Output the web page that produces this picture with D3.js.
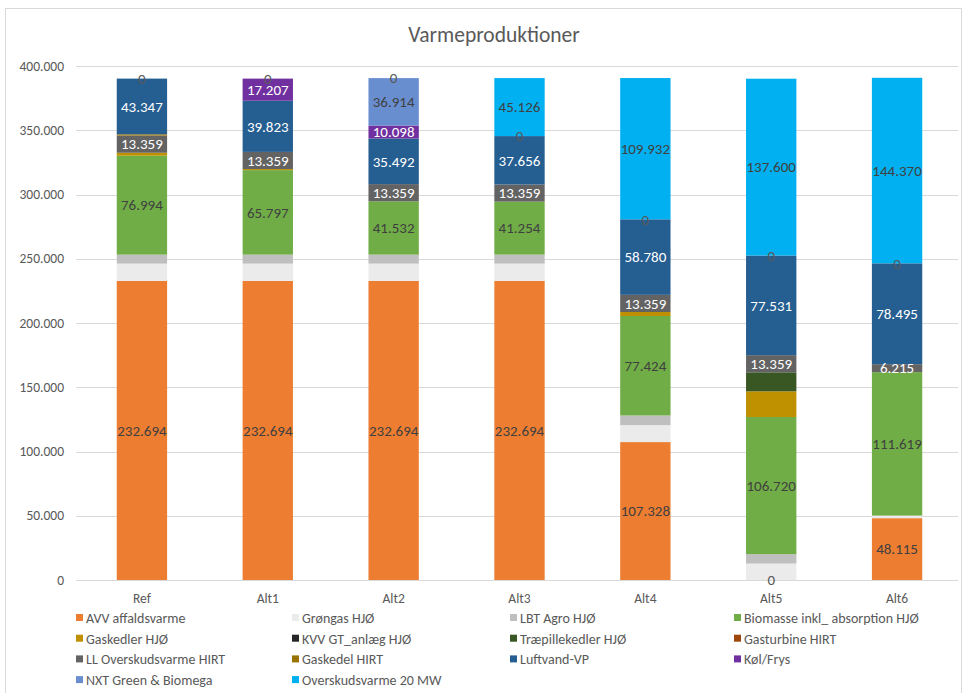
<!DOCTYPE html>
<html>
<head>
<meta charset="utf-8">
<script src="https://cdn.jsdelivr.net/npm/d3@7"></script>
<style>
  body { margin: 0; background: #fff; }
  svg { font-family: Carlito, Calibri, "Liberation Sans", sans-serif; }
</style>
</head>
<body>
<svg id="chart" width="965" height="693"></svg>
<script>
// categories and series values (MWh)
const categories = ["Ref", "Alt1", "Alt2", "Alt3", "Alt4", "Alt5", "Alt6"];

const avvAffaldsvarme   = [232694, 232694, 232694, 232694, 107328, 0, 48115];
const grongasHJO        = [13500, 13500, 13500, 13500, 13200, 12800, 2000];
const lbtAgroHJO        = [7000, 7000, 7000, 7000, 7500, 7300, 0];
const biomasseHJO       = [76994, 65797, 41532, 41254, 77424, 106720, 111619];
const gaskedlerHJO      = [2300, 800, 0, 0, 3100, 20000, 0];
const kvvGtHJO          = [0, 0, 0, 0, 0, 0, 0];
const traepillekedlerHJO = [0, 0, 0, 0, 0, 14800, 0];
const gasturbineHIRT    = [0, 0, 0, 0, 0, 0, 0];
const llOverskudHIRT    = [13359, 13359, 13359, 13359, 13359, 13359, 6215];
const gaskedelHIRT      = [1000, 0, 0, 0, 0, 0, 0];
const luftvandVP        = [43347, 39823, 35492, 37656, 58780, 77531, 78495];
const kolFrys           = [0, 17207, 10098, 0, 0, 0, 0];
const nxtGreen          = [0, 0, 36914, 0, 0, 0, 0];
const overskud20MW      = [0, 0, 0, 45126, 109932, 137600, 144370];

const seriesNames = [
  "AVV affaldsvarme", "Grøngas HJØ", "LBT Agro HJØ", "Biomasse inkl_ absorption HJØ",
  "Gaskedler HJØ", "KVV GT_anlæg HJØ", "Træpillekedler HJØ", "Gasturbine HIRT",
  "LL Overskudsvarme HIRT", "Gaskedel HIRT", "Luftvand-VP", "Køl/Frys",
  "NXT Green & Biomega", "Overskudsvarme 20 MW"
];
const seriesValues = [
  avvAffaldsvarme, grongasHJO, lbtAgroHJO, biomasseHJO, gaskedlerHJO, kvvGtHJO,
  traepillekedlerHJO, gasturbineHIRT, llOverskudHIRT, gaskedelHIRT, luftvandVP,
  kolFrys, nxtGreen, overskud20MW
];
const yTicks = [0, 50000, 100000, 150000, 200000, 250000, 300000, 350000, 400000];

const colors = ["#ED7D31", "#ECEBEB", "#BFBFBF", "#70AD47", "#BF9000", "#262626",
  "#385723", "#9E480E", "#636363", "#997300", "#255E91", "#7030A0", "#698ED0", "#00B0F0"];
// which series get data labels, and label colour
const labelColor = {0: "#404040", 3: "#404040", 8: "#ffffff", 10: "#ffffff",
  11: "#ffffff", 12: "#404040", 13: "#404040"};

const locale = d3.formatLocale({decimal: ",", thousands: ".", grouping: [3], currency: ["", ""]});
const fmt = locale.format(",d");

const rows = categories.map((c, i) => {
  const r = {cat: c};
  seriesNames.forEach((s, j) => r[s] = seriesValues[j][i]);
  return r;
});
const stacked = d3.stack().keys(seriesNames)(rows);

const svg = d3.select("#chart");
const textCol = "#595959";

// chart frame
svg.append("rect").attr("x", 5.5).attr("y", 8.5).attr("width", 956).attr("height", 700)
  .attr("fill", "none").attr("stroke", "#D9D9D9");

svg.append("text").attr("x", 494).attr("y", 42).attr("text-anchor", "middle")
  .attr("fill", textCol).style("font-size", "21.5px").text("Varmeproduktioner");

const x = d3.scaleBand().domain(categories).range([79, 960]).paddingInner(0.6).paddingOuter(0.3);
const y = d3.scaleLinear().domain([0, 400000]).range([580, 66]);

// gridlines
svg.append("g").selectAll("line").data(yTicks).join("line")
  .attr("x1", 76).attr("x2", 958)
  .attr("y1", d => Math.round(y(d)) + 0.5).attr("y2", d => Math.round(y(d)) + 0.5)
  .attr("stroke", "#D9D9D9");

svg.append("g").selectAll("text").data(yTicks).join("text")
  .attr("x", 64).attr("y", d => y(d)).attr("dy", "0.35em")
  .attr("text-anchor", "end").attr("fill", textCol).style("font-size", "13.5px")
  .text(d => fmt(d));

svg.append("g").selectAll("text").data(categories).join("text")
  .attr("x", d => x(d) + x.bandwidth() / 2).attr("y", 598).attr("dy", "0.35em")
  .attr("text-anchor", "middle").attr("fill", textCol).style("font-size", "13.5px")
  .text(d => d);

// bars
svg.append("g").selectAll("g").data(stacked).join("g")
  .attr("fill", (d, i) => colors[i])
  .selectAll("rect").data(d => d).join("rect")
  .attr("x", d => x(d.data.cat))
  .attr("y", d => y(d[1]))
  .attr("width", x.bandwidth())
  .attr("height", d => y(d[0]) - y(d[1]));

// data labels
const labels = [];
stacked.forEach((s, i) => {
  if (!(i in labelColor)) return;
  s.forEach(d => {
    const v = d[1] - d[0];
    const cy = y((d[0] + d[1]) / 2);
    const cat = d.data.cat;
    if (v === 0 && labels.some(l => l.cat === cat && Math.abs(l.cy - cy) < 1)) return;
    labels.push({cat, cy, v, col: v === 0 ? "#595959" : labelColor[i]});
  });
});
svg.append("g").selectAll("text").data(labels).join("text")
  .attr("x", d => x(d.cat) + x.bandwidth() / 2).attr("y", d => d.cy).attr("dy", "0.35em")
  .attr("text-anchor", "middle").attr("fill", d => d.col).style("font-size", "15px")
  .text(d => fmt(d.v));

// legend
const legCols = [76, 292, 510, 734];
const leg = svg.append("g").selectAll("g").data(seriesNames).join("g")
  .attr("transform", (d, i) => `translate(${legCols[i % 4]}, ${618 + Math.floor(i / 4) * 20.7})`);
leg.append("rect").attr("x", 0).attr("y", -4).attr("width", 7).attr("height", 7)
  .attr("fill", (d, i) => colors[i]);
leg.append("text").attr("x", 10).attr("y", 0).attr("dy", "0.35em")
  .attr("fill", textCol).style("font-size", "14px").text(d => d);
</script>
</body>
</html>
